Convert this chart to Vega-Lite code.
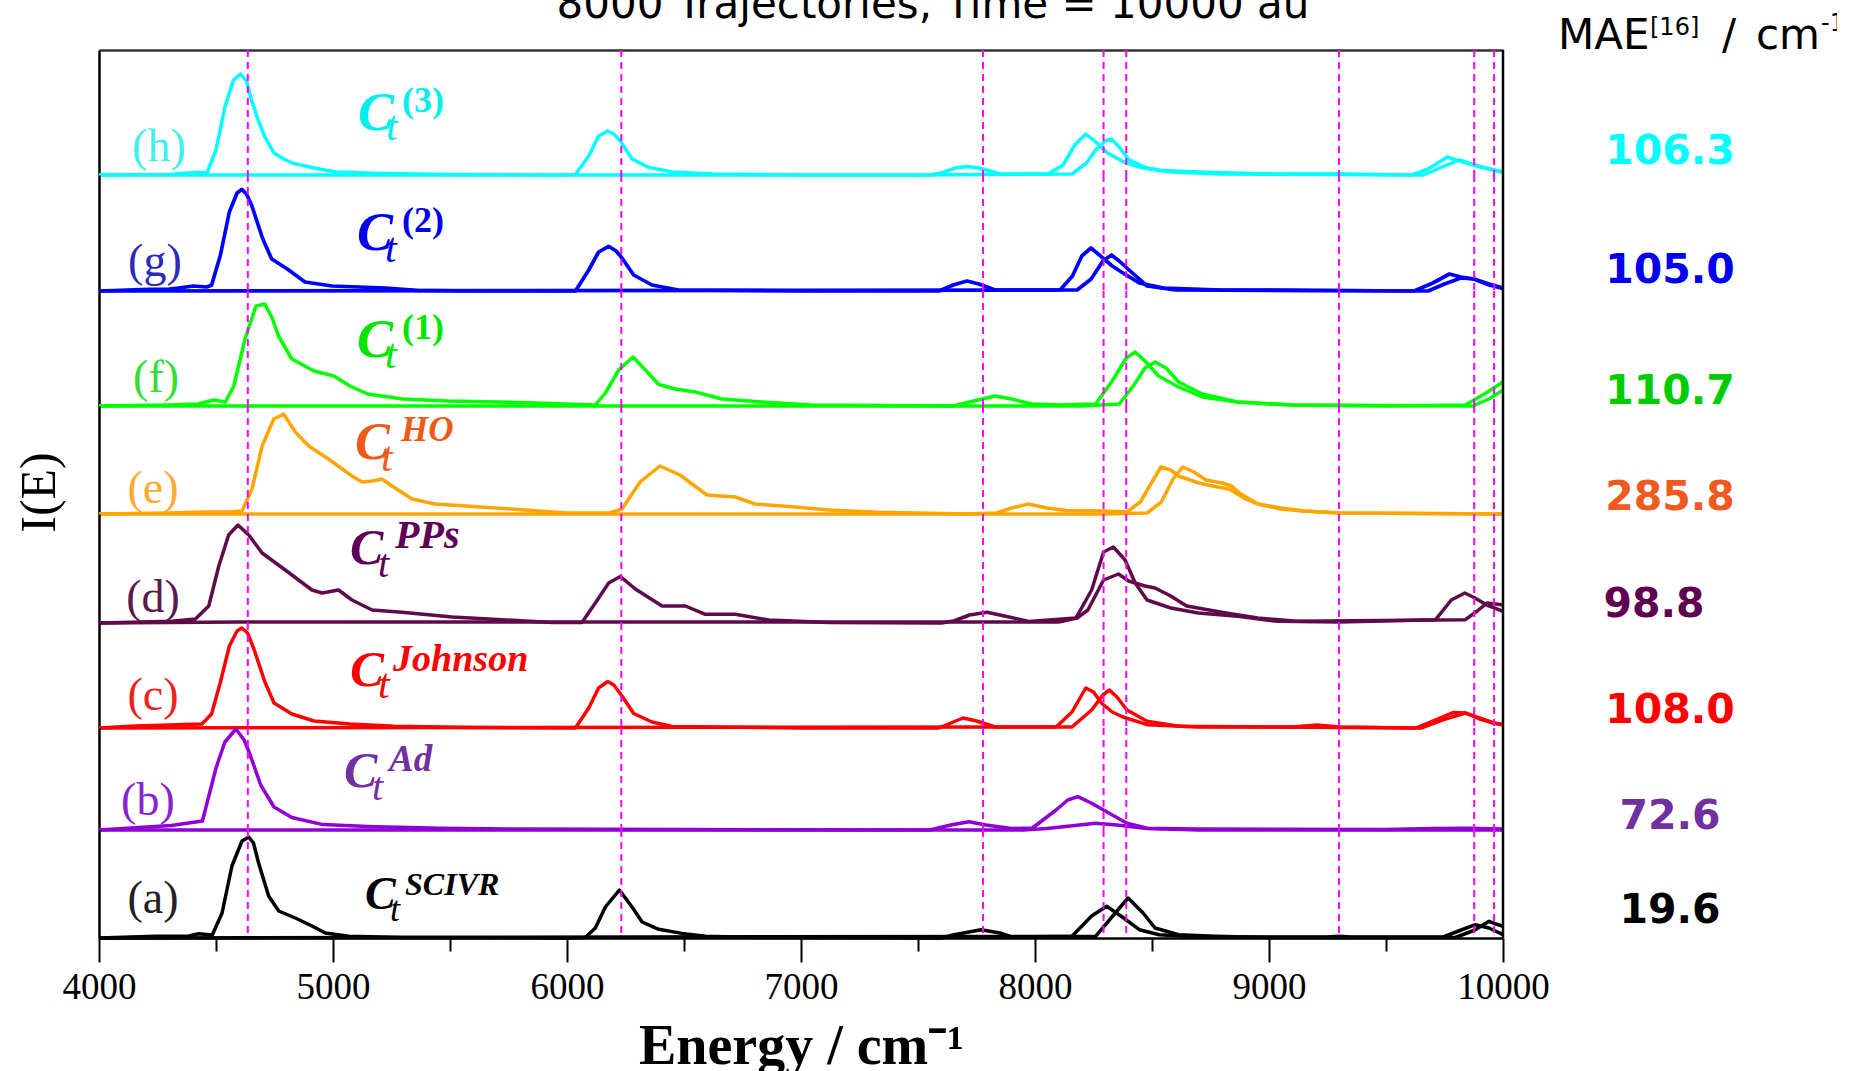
{
  "$schema": "https://vega.github.io/schema/vega-lite/v6.json",
  "padding": {"left": 14, "top": -16, "right": -8, "bottom": -3},
  "config": {"view": {"stroke": null}, "axis": {"grid": false}},
  "spacing": 0,
  "bounds": "flush",
  "resolve": {"scale": {"x": "independent", "y": "independent"}, "axis": {"x": "independent", "y": "independent"}},
  "datasets": {
    "lines": [{"E": 4636}, {"E": 6232}, {"E": 7778}, {"E": 8293}, {"E": 8390}, {"E": 9299}, {"E": 9877}, {"E": 9962}],
    "mae": [{"panel": "h", "MAE": 106.3}, {"panel": "g", "MAE": 105.0}, {"panel": "f", "MAE": 110.7}, {"panel": "e", "MAE": 285.8}, {"panel": "d", "MAE": 98.8}, {"panel": "c", "MAE": 108.0}, {"panel": "b", "MAE": 72.6}, {"panel": "a", "MAE": 19.6}],
    "spectra": [
      {"panel":"h","comp":"A","E":4000,"I":0},{"panel":"h","comp":"A","E":4300,"I":0.5},{"panel":"h","comp":"A","E":4380,"I":2},{"panel":"h","comp":"A","E":4430,"I":2.5},{"panel":"h","comp":"A","E":4461,"I":2},{"panel":"h","comp":"A","E":4500,"I":25},{"panel":"h","comp":"A","E":4538,"I":68},{"panel":"h","comp":"A","E":4575,"I":95},{"panel":"h","comp":"A","E":4605,"I":101},{"panel":"h","comp":"A","E":4630,"I":94},{"panel":"h","comp":"A","E":4652,"I":75},{"panel":"h","comp":"A","E":4680,"I":55},{"panel":"h","comp":"A","E":4709,"I":38},{"panel":"h","comp":"A","E":4748,"I":22},{"panel":"h","comp":"A","E":4790,"I":16},{"panel":"h","comp":"A","E":4825,"I":12},{"panel":"h","comp":"A","E":4919,"I":7},{"panel":"h","comp":"A","E":5013,"I":3},{"panel":"h","comp":"A","E":5200,"I":1.5},{"panel":"h","comp":"A","E":5500,"I":0.5},{"panel":"h","comp":"A","E":6000,"I":0},{"panel":"h","comp":"A","E":6036,"I":0.5},{"panel":"h","comp":"A","E":6093,"I":19},{"panel":"h","comp":"A","E":6135,"I":39},{"panel":"h","comp":"A","E":6174,"I":44},{"panel":"h","comp":"A","E":6200,"I":41},{"panel":"h","comp":"A","E":6228,"I":34},{"panel":"h","comp":"A","E":6278,"I":16},{"panel":"h","comp":"A","E":6349,"I":7.6},{"panel":"h","comp":"A","E":6449,"I":3},{"panel":"h","comp":"A","E":6620,"I":1},{"panel":"h","comp":"A","E":7000,"I":0},{"panel":"h","comp":"A","E":7550,"I":0},{"panel":"h","comp":"A","E":7600,"I":2},{"panel":"h","comp":"A","E":7660,"I":7},{"panel":"h","comp":"A","E":7709,"I":8.5},{"panel":"h","comp":"A","E":7760,"I":7},{"panel":"h","comp":"A","E":7853,"I":1},{"panel":"h","comp":"A","E":8055,"I":1},{"panel":"h","comp":"A","E":8120,"I":10},{"panel":"h","comp":"A","E":8170,"I":30},{"panel":"h","comp":"A","E":8217,"I":41},{"panel":"h","comp":"A","E":8260,"I":33},{"panel":"h","comp":"A","E":8310,"I":22},{"panel":"h","comp":"A","E":8380,"I":13},{"panel":"h","comp":"A","E":8446,"I":8},{"panel":"h","comp":"A","E":8530,"I":4.5},{"panel":"h","comp":"A","E":8700,"I":3},{"panel":"h","comp":"A","E":9000,"I":1},{"panel":"h","comp":"A","E":9300,"I":1},{"panel":"h","comp":"A","E":9611,"I":0},{"panel":"h","comp":"A","E":9680,"I":6},{"panel":"h","comp":"A","E":9763,"I":18},{"panel":"h","comp":"A","E":9800,"I":15},{"panel":"h","comp":"A","E":9876,"I":10},{"panel":"h","comp":"A","E":9940,"I":6},{"panel":"h","comp":"A","E":10000,"I":3},
      {"panel":"h","comp":"B","E":4000,"I":0},{"panel":"h","comp":"B","E":7500,"I":0},{"panel":"h","comp":"B","E":8158,"I":1},{"panel":"h","comp":"B","E":8220,"I":12},{"panel":"h","comp":"B","E":8259,"I":25},{"panel":"h","comp":"B","E":8300,"I":34},{"panel":"h","comp":"B","E":8327,"I":36},{"panel":"h","comp":"B","E":8360,"I":28},{"panel":"h","comp":"B","E":8402,"I":15},{"panel":"h","comp":"B","E":8479,"I":7},{"panel":"h","comp":"B","E":8582,"I":3},{"panel":"h","comp":"B","E":8800,"I":1},{"panel":"h","comp":"B","E":9300,"I":0.5},{"panel":"h","comp":"B","E":9660,"I":0},{"panel":"h","comp":"B","E":9740,"I":8},{"panel":"h","comp":"B","E":9813,"I":15},{"panel":"h","comp":"B","E":9876,"I":10},{"panel":"h","comp":"B","E":9940,"I":6},{"panel":"h","comp":"B","E":10000,"I":3},
      {"panel":"g","comp":"A","E":4000,"I":0},{"panel":"g","comp":"A","E":4213,"I":1.7},{"panel":"g","comp":"A","E":4300,"I":2},{"panel":"g","comp":"A","E":4340,"I":3},{"panel":"g","comp":"A","E":4404,"I":5},{"panel":"g","comp":"A","E":4460,"I":4},{"panel":"g","comp":"A","E":4481,"I":5.7},{"panel":"g","comp":"A","E":4519,"I":36},{"panel":"g","comp":"A","E":4557,"I":79},{"panel":"g","comp":"A","E":4590,"I":98},{"panel":"g","comp":"A","E":4610,"I":101.6},{"panel":"g","comp":"A","E":4630,"I":97},{"panel":"g","comp":"A","E":4652,"I":86},{"panel":"g","comp":"A","E":4700,"I":52},{"panel":"g","comp":"A","E":4738,"I":32},{"panel":"g","comp":"A","E":4805,"I":22},{"panel":"g","comp":"A","E":4880,"I":9},{"panel":"g","comp":"A","E":4996,"I":5},{"panel":"g","comp":"A","E":5225,"I":3},{"panel":"g","comp":"A","E":5358,"I":0.7},{"panel":"g","comp":"A","E":5600,"I":0},{"panel":"g","comp":"A","E":6036,"I":0},{"panel":"g","comp":"A","E":6093,"I":21},{"panel":"g","comp":"A","E":6135,"I":39},{"panel":"g","comp":"A","E":6178,"I":44.6},{"panel":"g","comp":"A","E":6210,"I":40},{"panel":"g","comp":"A","E":6235,"I":33},{"panel":"g","comp":"A","E":6285,"I":16},{"panel":"g","comp":"A","E":6363,"I":6},{"panel":"g","comp":"A","E":6477,"I":1},{"panel":"g","comp":"A","E":7000,"I":0},{"panel":"g","comp":"A","E":7590,"I":0},{"panel":"g","comp":"A","E":7650,"I":6},{"panel":"g","comp":"A","E":7709,"I":10},{"panel":"g","comp":"A","E":7760,"I":7},{"panel":"g","comp":"A","E":7830,"I":1},{"panel":"g","comp":"A","E":8107,"I":1},{"panel":"g","comp":"A","E":8160,"I":15},{"panel":"g","comp":"A","E":8200,"I":35},{"panel":"g","comp":"A","E":8239,"I":43},{"panel":"g","comp":"A","E":8280,"I":35},{"panel":"g","comp":"A","E":8330,"I":25},{"panel":"g","comp":"A","E":8376,"I":18},{"panel":"g","comp":"A","E":8446,"I":8},{"panel":"g","comp":"A","E":8550,"I":3},{"panel":"g","comp":"A","E":8800,"I":1},{"panel":"g","comp":"A","E":9300,"I":0.5},{"panel":"g","comp":"A","E":9620,"I":0},{"panel":"g","comp":"A","E":9700,"I":8},{"panel":"g","comp":"A","E":9771,"I":17},{"panel":"g","comp":"A","E":9820,"I":14},{"panel":"g","comp":"A","E":9876,"I":12},{"panel":"g","comp":"A","E":9940,"I":6},{"panel":"g","comp":"A","E":10000,"I":2.5},
      {"panel":"g","comp":"B","E":4000,"I":0},{"panel":"g","comp":"B","E":8180,"I":1},{"panel":"g","comp":"B","E":8240,"I":12},{"panel":"g","comp":"B","E":8290,"I":30},{"panel":"g","comp":"B","E":8327,"I":36},{"panel":"g","comp":"B","E":8360,"I":30},{"panel":"g","comp":"B","E":8402,"I":21},{"panel":"g","comp":"B","E":8479,"I":5},{"panel":"g","comp":"B","E":8600,"I":1},{"panel":"g","comp":"B","E":9680,"I":0},{"panel":"g","comp":"B","E":9750,"I":7},{"panel":"g","comp":"B","E":9820,"I":13},{"panel":"g","comp":"B","E":9876,"I":12},{"panel":"g","comp":"B","E":9940,"I":7},{"panel":"g","comp":"B","E":10000,"I":3},
      {"panel":"f","comp":"A","E":4000,"I":0},{"panel":"f","comp":"A","E":4300,"I":1},{"panel":"f","comp":"A","E":4423,"I":2},{"panel":"f","comp":"A","E":4490,"I":6},{"panel":"f","comp":"A","E":4540,"I":4},{"panel":"f","comp":"A","E":4576,"I":20},{"panel":"f","comp":"A","E":4624,"I":67},{"panel":"f","comp":"A","E":4671,"I":100},{"panel":"f","comp":"A","E":4709,"I":102},{"panel":"f","comp":"A","E":4740,"I":88},{"panel":"f","comp":"A","E":4767,"I":70},{"panel":"f","comp":"A","E":4824,"I":47},{"panel":"f","comp":"A","E":4919,"I":35},{"panel":"f","comp":"A","E":5004,"I":30},{"panel":"f","comp":"A","E":5072,"I":20},{"panel":"f","comp":"A","E":5148,"I":12},{"panel":"f","comp":"A","E":5299,"I":7},{"panel":"f","comp":"A","E":5491,"I":5},{"panel":"f","comp":"A","E":5833,"I":3.3},{"panel":"f","comp":"A","E":6050,"I":1.5},{"panel":"f","comp":"A","E":6121,"I":1},{"panel":"f","comp":"A","E":6164,"I":13},{"panel":"f","comp":"A","E":6221,"I":36},{"panel":"f","comp":"A","E":6282,"I":49},{"panel":"f","comp":"A","E":6335,"I":36},{"panel":"f","comp":"A","E":6392,"I":21.5},{"panel":"f","comp":"A","E":6463,"I":17},{"panel":"f","comp":"A","E":6548,"I":14},{"panel":"f","comp":"A","E":6662,"I":7},{"panel":"f","comp":"A","E":6833,"I":4},{"panel":"f","comp":"A","E":7046,"I":1},{"panel":"f","comp":"A","E":7650,"I":0},{"panel":"f","comp":"A","E":7720,"I":4},{"panel":"f","comp":"A","E":7829,"I":10},{"panel":"f","comp":"A","E":7900,"I":7},{"panel":"f","comp":"A","E":7985,"I":2},{"panel":"f","comp":"A","E":8100,"I":1},{"panel":"f","comp":"A","E":8259,"I":2},{"panel":"f","comp":"A","E":8330,"I":25},{"panel":"f","comp":"A","E":8390,"I":48},{"panel":"f","comp":"A","E":8428,"I":54},{"panel":"f","comp":"A","E":8470,"I":45},{"panel":"f","comp":"A","E":8528,"I":30},{"panel":"f","comp":"A","E":8614,"I":19},{"panel":"f","comp":"A","E":8715,"I":9},{"panel":"f","comp":"A","E":8866,"I":4},{"panel":"f","comp":"A","E":9100,"I":1},{"panel":"f","comp":"A","E":9500,"I":0},{"panel":"f","comp":"A","E":9839,"I":1},{"panel":"f","comp":"A","E":9920,"I":12},{"panel":"f","comp":"A","E":10000,"I":24},
      {"panel":"f","comp":"B","E":4000,"I":0},{"panel":"f","comp":"B","E":8200,"I":0},{"panel":"f","comp":"B","E":8360,"I":2},{"panel":"f","comp":"B","E":8420,"I":20},{"panel":"f","comp":"B","E":8470,"I":38},{"panel":"f","comp":"B","E":8513,"I":44},{"panel":"f","comp":"B","E":8560,"I":38},{"panel":"f","comp":"B","E":8614,"I":24},{"panel":"f","comp":"B","E":8715,"I":12},{"panel":"f","comp":"B","E":8866,"I":4},{"panel":"f","comp":"B","E":9100,"I":1},{"panel":"f","comp":"B","E":9870,"I":0},{"panel":"f","comp":"B","E":9940,"I":7},{"panel":"f","comp":"B","E":10000,"I":16},
      {"panel":"e","comp":"A","E":4000,"I":0},{"panel":"e","comp":"A","E":4300,"I":1},{"panel":"e","comp":"A","E":4450,"I":2},{"panel":"e","comp":"A","E":4550,"I":2},{"panel":"e","comp":"A","E":4611,"I":3},{"panel":"e","comp":"A","E":4654,"I":25},{"panel":"e","comp":"A","E":4697,"I":68},{"panel":"e","comp":"A","E":4747,"I":95},{"panel":"e","comp":"A","E":4789,"I":100},{"panel":"e","comp":"A","E":4839,"I":82},{"panel":"e","comp":"A","E":4896,"I":68},{"panel":"e","comp":"A","E":4981,"I":55},{"panel":"e","comp":"A","E":5081,"I":38},{"panel":"e","comp":"A","E":5124,"I":32},{"panel":"e","comp":"A","E":5170,"I":33},{"panel":"e","comp":"A","E":5209,"I":35},{"panel":"e","comp":"A","E":5252,"I":28},{"panel":"e","comp":"A","E":5338,"I":15},{"panel":"e","comp":"A","E":5436,"I":10},{"panel":"e","comp":"A","E":5650,"I":6.7},{"panel":"e","comp":"A","E":5863,"I":3.3},{"panel":"e","comp":"A","E":6000,"I":1},{"panel":"e","comp":"A","E":6180,"I":1},{"panel":"e","comp":"A","E":6235,"I":5},{"panel":"e","comp":"A","E":6312,"I":32},{"panel":"e","comp":"A","E":6397,"I":48},{"panel":"e","comp":"A","E":6483,"I":39},{"panel":"e","comp":"A","E":6598,"I":19},{"panel":"e","comp":"A","E":6719,"I":17},{"panel":"e","comp":"A","E":6804,"I":10},{"panel":"e","comp":"A","E":6975,"I":7},{"panel":"e","comp":"A","E":7120,"I":4},{"panel":"e","comp":"A","E":7332,"I":1.7},{"panel":"e","comp":"A","E":7700,"I":0},{"panel":"e","comp":"A","E":7835,"I":1},{"panel":"e","comp":"A","E":7900,"I":6},{"panel":"e","comp":"A","E":7972,"I":10},{"panel":"e","comp":"A","E":8050,"I":6},{"panel":"e","comp":"A","E":8135,"I":3.5},{"panel":"e","comp":"A","E":8300,"I":3},{"panel":"e","comp":"A","E":8393,"I":2},{"panel":"e","comp":"A","E":8450,"I":12},{"panel":"e","comp":"A","E":8500,"I":32},{"panel":"e","comp":"A","E":8538,"I":47},{"panel":"e","comp":"A","E":8580,"I":44},{"panel":"e","comp":"A","E":8614,"I":38},{"panel":"e","comp":"A","E":8700,"I":31},{"panel":"e","comp":"A","E":8780,"I":27},{"panel":"e","comp":"A","E":8830,"I":25},{"panel":"e","comp":"A","E":8900,"I":15},{"panel":"e","comp":"A","E":8952,"I":10},{"panel":"e","comp":"A","E":9050,"I":6},{"panel":"e","comp":"A","E":9150,"I":3},{"panel":"e","comp":"A","E":9300,"I":1},{"panel":"e","comp":"A","E":10000,"I":0},
      {"panel":"e","comp":"B","E":4000,"I":0},{"panel":"e","comp":"B","E":8300,"I":0},{"panel":"e","comp":"B","E":8479,"I":1},{"panel":"e","comp":"B","E":8540,"I":12},{"panel":"e","comp":"B","E":8590,"I":35},{"panel":"e","comp":"B","E":8631,"I":47},{"panel":"e","comp":"B","E":8680,"I":42},{"panel":"e","comp":"B","E":8730,"I":34},{"panel":"e","comp":"B","E":8800,"I":31},{"panel":"e","comp":"B","E":8840,"I":28},{"panel":"e","comp":"B","E":8880,"I":20},{"panel":"e","comp":"B","E":8952,"I":10},{"panel":"e","comp":"B","E":9050,"I":5},{"panel":"e","comp":"B","E":9150,"I":3},{"panel":"e","comp":"B","E":9300,"I":1},{"panel":"e","comp":"B","E":10000,"I":0},
      {"panel":"d","comp":"A","E":4000,"I":0},{"panel":"d","comp":"A","E":4312,"I":1.7},{"panel":"d","comp":"A","E":4412,"I":4},{"panel":"d","comp":"A","E":4469,"I":17},{"panel":"d","comp":"A","E":4512,"I":57},{"panel":"d","comp":"A","E":4554,"I":88},{"panel":"d","comp":"A","E":4594,"I":98},{"panel":"d","comp":"A","E":4640,"I":88},{"panel":"d","comp":"A","E":4697,"I":70},{"panel":"d","comp":"A","E":4796,"I":53},{"panel":"d","comp":"A","E":4910,"I":33},{"panel":"d","comp":"A","E":4953,"I":30},{"panel":"d","comp":"A","E":5024,"I":33},{"panel":"d","comp":"A","E":5081,"I":23},{"panel":"d","comp":"A","E":5167,"I":13},{"panel":"d","comp":"A","E":5295,"I":10.7},{"panel":"d","comp":"A","E":5509,"I":6},{"panel":"d","comp":"A","E":5722,"I":3.3},{"panel":"d","comp":"A","E":5936,"I":0.5},{"panel":"d","comp":"A","E":6064,"I":0.5},{"panel":"d","comp":"A","E":6121,"I":20},{"panel":"d","comp":"A","E":6178,"I":40},{"panel":"d","comp":"A","E":6228,"I":46.5},{"panel":"d","comp":"A","E":6292,"I":34},{"panel":"d","comp":"A","E":6406,"I":17},{"panel":"d","comp":"A","E":6506,"I":17},{"panel":"d","comp":"A","E":6591,"I":8.7},{"panel":"d","comp":"A","E":6719,"I":8.7},{"panel":"d","comp":"A","E":6862,"I":3},{"panel":"d","comp":"A","E":7118,"I":0.5},{"panel":"d","comp":"A","E":7600,"I":0},{"panel":"d","comp":"A","E":7653,"I":2},{"panel":"d","comp":"A","E":7720,"I":8},{"panel":"d","comp":"A","E":7795,"I":10.7},{"panel":"d","comp":"A","E":7870,"I":7},{"panel":"d","comp":"A","E":7973,"I":1.5},{"panel":"d","comp":"A","E":8175,"I":5},{"panel":"d","comp":"A","E":8242,"I":33},{"panel":"d","comp":"A","E":8293,"I":71},{"panel":"d","comp":"A","E":8335,"I":76},{"panel":"d","comp":"A","E":8385,"I":63},{"panel":"d","comp":"A","E":8428,"I":40},{"panel":"d","comp":"A","E":8479,"I":23},{"panel":"d","comp":"A","E":8580,"I":15},{"panel":"d","comp":"A","E":8698,"I":10},{"panel":"d","comp":"A","E":8867,"I":6.7},{"panel":"d","comp":"A","E":9036,"I":1.7},{"panel":"d","comp":"A","E":9300,"I":1},{"panel":"d","comp":"A","E":9712,"I":3.3},{"panel":"d","comp":"A","E":9779,"I":23},{"panel":"d","comp":"A","E":9837,"I":30},{"panel":"d","comp":"A","E":9880,"I":25},{"panel":"d","comp":"A","E":9931,"I":18},{"panel":"d","comp":"A","E":10000,"I":11.7},
      {"panel":"d","comp":"B","E":4000,"I":0},{"panel":"d","comp":"B","E":4600,"I":1},{"panel":"d","comp":"B","E":6200,"I":1},{"panel":"d","comp":"B","E":7500,"I":1},{"panel":"d","comp":"B","E":8100,"I":1},{"panel":"d","comp":"B","E":8180,"I":5},{"panel":"d","comp":"B","E":8226,"I":13},{"panel":"d","comp":"B","E":8293,"I":43},{"panel":"d","comp":"B","E":8357,"I":49},{"panel":"d","comp":"B","E":8400,"I":42},{"panel":"d","comp":"B","E":8428,"I":40},{"panel":"d","comp":"B","E":8470,"I":37},{"panel":"d","comp":"B","E":8513,"I":35},{"panel":"d","comp":"B","E":8580,"I":27},{"panel":"d","comp":"B","E":8648,"I":17},{"panel":"d","comp":"B","E":8816,"I":10},{"panel":"d","comp":"B","E":8952,"I":5},{"panel":"d","comp":"B","E":9120,"I":1.7},{"panel":"d","comp":"B","E":9839,"I":3.3},{"panel":"d","comp":"B","E":9890,"I":12},{"panel":"d","comp":"B","E":9931,"I":20},{"panel":"d","comp":"B","E":9970,"I":19},{"panel":"d","comp":"B","E":10000,"I":18},
      {"panel":"c","comp":"A","E":4000,"I":0},{"panel":"c","comp":"A","E":4156,"I":2},{"panel":"c","comp":"A","E":4366,"I":3.6},{"panel":"c","comp":"A","E":4440,"I":4},{"panel":"c","comp":"A","E":4481,"I":14},{"panel":"c","comp":"A","E":4519,"I":46},{"panel":"c","comp":"A","E":4557,"I":82},{"panel":"c","comp":"A","E":4590,"I":97},{"panel":"c","comp":"A","E":4610,"I":100},{"panel":"c","comp":"A","E":4635,"I":95},{"panel":"c","comp":"A","E":4662,"I":79},{"panel":"c","comp":"A","E":4709,"I":46},{"panel":"c","comp":"A","E":4748,"I":25},{"panel":"c","comp":"A","E":4824,"I":14},{"panel":"c","comp":"A","E":4919,"I":7},{"panel":"c","comp":"A","E":5072,"I":4},{"panel":"c","comp":"A","E":5263,"I":1.8},{"panel":"c","comp":"A","E":5600,"I":0.5},{"panel":"c","comp":"A","E":6036,"I":0},{"panel":"c","comp":"A","E":6093,"I":20},{"panel":"c","comp":"A","E":6135,"I":40},{"panel":"c","comp":"A","E":6174,"I":46.5},{"panel":"c","comp":"A","E":6200,"I":43},{"panel":"c","comp":"A","E":6235,"I":32},{"panel":"c","comp":"A","E":6285,"I":14.5},{"panel":"c","comp":"A","E":6363,"I":6},{"panel":"c","comp":"A","E":6450,"I":1.5},{"panel":"c","comp":"A","E":7000,"I":0},{"panel":"c","comp":"A","E":7590,"I":0},{"panel":"c","comp":"A","E":7640,"I":5},{"panel":"c","comp":"A","E":7693,"I":10},{"panel":"c","comp":"A","E":7750,"I":7},{"panel":"c","comp":"A","E":7830,"I":1},{"panel":"c","comp":"A","E":8090,"I":1},{"panel":"c","comp":"A","E":8158,"I":16},{"panel":"c","comp":"A","E":8217,"I":40},{"panel":"c","comp":"A","E":8250,"I":36},{"panel":"c","comp":"A","E":8284,"I":25},{"panel":"c","comp":"A","E":8330,"I":16},{"panel":"c","comp":"A","E":8376,"I":11},{"panel":"c","comp":"A","E":8479,"I":3.3},{"panel":"c","comp":"A","E":8700,"I":1},{"panel":"c","comp":"A","E":9100,"I":1},{"panel":"c","comp":"A","E":9205,"I":3},{"panel":"c","comp":"A","E":9300,"I":1},{"panel":"c","comp":"A","E":9627,"I":0},{"panel":"c","comp":"A","E":9700,"I":7},{"panel":"c","comp":"A","E":9789,"I":15.6},{"panel":"c","comp":"A","E":9839,"I":15},{"panel":"c","comp":"A","E":9900,"I":9},{"panel":"c","comp":"A","E":9960,"I":5},{"panel":"c","comp":"A","E":10000,"I":3.3},
      {"panel":"c","comp":"B","E":4000,"I":0},{"panel":"c","comp":"B","E":8158,"I":1},{"panel":"c","comp":"B","E":8242,"I":18},{"panel":"c","comp":"B","E":8290,"I":33},{"panel":"c","comp":"B","E":8318,"I":38},{"panel":"c","comp":"B","E":8350,"I":31},{"panel":"c","comp":"B","E":8393,"I":18},{"panel":"c","comp":"B","E":8479,"I":6.7},{"panel":"c","comp":"B","E":8614,"I":1.7},{"panel":"c","comp":"B","E":9650,"I":0},{"panel":"c","comp":"B","E":9740,"I":8},{"panel":"c","comp":"B","E":9839,"I":15},{"panel":"c","comp":"B","E":9900,"I":10},{"panel":"c","comp":"B","E":9960,"I":5},{"panel":"c","comp":"B","E":10000,"I":3.3},
      {"panel":"b","comp":"A","E":4000,"I":0},{"panel":"b","comp":"A","E":4118,"I":1.8},{"panel":"b","comp":"A","E":4309,"I":4.6},{"panel":"b","comp":"A","E":4442,"I":9},{"panel":"b","comp":"A","E":4500,"I":62},{"panel":"b","comp":"A","E":4538,"I":88},{"panel":"b","comp":"A","E":4585,"I":101},{"panel":"b","comp":"A","E":4620,"I":90},{"panel":"b","comp":"A","E":4643,"I":77},{"panel":"b","comp":"A","E":4691,"I":45},{"panel":"b","comp":"A","E":4748,"I":23},{"panel":"b","comp":"A","E":4824,"I":12.5},{"panel":"b","comp":"A","E":4957,"I":5.4},{"panel":"b","comp":"A","E":5148,"I":3.6},{"panel":"b","comp":"A","E":5453,"I":1.8},{"panel":"b","comp":"A","E":5800,"I":1},{"panel":"b","comp":"A","E":6500,"I":0.5},{"panel":"b","comp":"A","E":7550,"I":0},{"panel":"b","comp":"A","E":7640,"I":5},{"panel":"b","comp":"A","E":7718,"I":8.3},{"panel":"b","comp":"A","E":7790,"I":5},{"panel":"b","comp":"A","E":7900,"I":1.5},{"panel":"b","comp":"A","E":7989,"I":2},{"panel":"b","comp":"A","E":8090,"I":20},{"panel":"b","comp":"A","E":8140,"I":30},{"panel":"b","comp":"A","E":8183,"I":33.3},{"panel":"b","comp":"A","E":8240,"I":27},{"panel":"b","comp":"A","E":8293,"I":20},{"panel":"b","comp":"A","E":8393,"I":6.7},{"panel":"b","comp":"A","E":8479,"I":1.7},{"panel":"b","comp":"A","E":8700,"I":1},{"panel":"b","comp":"A","E":9500,"I":0.5},{"panel":"b","comp":"A","E":9700,"I":1.5},{"panel":"b","comp":"A","E":9850,"I":1.7},{"panel":"b","comp":"A","E":10000,"I":1},
      {"panel":"b","comp":"B","E":4000,"I":0},{"panel":"b","comp":"B","E":7950,"I":0},{"panel":"b","comp":"B","E":8050,"I":1.5},{"panel":"b","comp":"B","E":8150,"I":4},{"panel":"b","comp":"B","E":8259,"I":6.7},{"panel":"b","comp":"B","E":8350,"I":5},{"panel":"b","comp":"B","E":8479,"I":1.5},{"panel":"b","comp":"B","E":8700,"I":0},{"panel":"b","comp":"B","E":10000,"I":0},
      {"panel":"a","comp":"A","E":4000,"I":0},{"panel":"a","comp":"A","E":4239,"I":1.7},{"panel":"a","comp":"A","E":4384,"I":2},{"panel":"a","comp":"A","E":4426,"I":4.3},{"panel":"a","comp":"A","E":4484,"I":3},{"panel":"a","comp":"A","E":4526,"I":25},{"panel":"a","comp":"A","E":4568,"I":72},{"panel":"a","comp":"A","E":4611,"I":97},{"panel":"a","comp":"A","E":4640,"I":101},{"panel":"a","comp":"A","E":4660,"I":95},{"panel":"a","comp":"A","E":4682,"I":75},{"panel":"a","comp":"A","E":4725,"I":42},{"panel":"a","comp":"A","E":4768,"I":27},{"panel":"a","comp":"A","E":4839,"I":20},{"panel":"a","comp":"A","E":4910,"I":12},{"panel":"a","comp":"A","E":4967,"I":5},{"panel":"a","comp":"A","E":5067,"I":1.7},{"panel":"a","comp":"A","E":5300,"I":0.5},{"panel":"a","comp":"A","E":6000,"I":0},{"panel":"a","comp":"A","E":6078,"I":0.5},{"panel":"a","comp":"A","E":6121,"I":10},{"panel":"a","comp":"A","E":6164,"I":31},{"panel":"a","comp":"A","E":6224,"I":48},{"panel":"a","comp":"A","E":6278,"I":31},{"panel":"a","comp":"A","E":6321,"I":16},{"panel":"a","comp":"A","E":6392,"I":8.7},{"panel":"a","comp":"A","E":6491,"I":4.6},{"panel":"a","comp":"A","E":6591,"I":1.7},{"panel":"a","comp":"A","E":6800,"I":0.5},{"panel":"a","comp":"A","E":7600,"I":0},{"panel":"a","comp":"A","E":7650,"I":3},{"panel":"a","comp":"A","E":7769,"I":8.3},{"panel":"a","comp":"A","E":7850,"I":5},{"panel":"a","comp":"A","E":7900,"I":1},{"panel":"a","comp":"A","E":8158,"I":1.7},{"panel":"a","comp":"A","E":8242,"I":22},{"panel":"a","comp":"A","E":8306,"I":31.7},{"panel":"a","comp":"A","E":8367,"I":22},{"panel":"a","comp":"A","E":8446,"I":8.3},{"panel":"a","comp":"A","E":8531,"I":3.3},{"panel":"a","comp":"A","E":8700,"I":1},{"panel":"a","comp":"A","E":9250,"I":1},{"panel":"a","comp":"A","E":9300,"I":1.7},{"panel":"a","comp":"A","E":9350,"I":1},{"panel":"a","comp":"A","E":9745,"I":1},{"panel":"a","comp":"A","E":9810,"I":7},{"panel":"a","comp":"A","E":9882,"I":13.3},{"panel":"a","comp":"A","E":9940,"I":10},{"panel":"a","comp":"A","E":10000,"I":3.3},
      {"panel":"a","comp":"B","E":4000,"I":0},{"panel":"a","comp":"B","E":8259,"I":1.7},{"panel":"a","comp":"B","E":8343,"I":25},{"panel":"a","comp":"B","E":8398,"I":40},{"panel":"a","comp":"B","E":8462,"I":25},{"panel":"a","comp":"B","E":8513,"I":10},{"panel":"a","comp":"B","E":8614,"I":3.3},{"panel":"a","comp":"B","E":8770,"I":1.7},{"panel":"a","comp":"B","E":9000,"I":0.5},{"panel":"a","comp":"B","E":9796,"I":0.5},{"panel":"a","comp":"B","E":9880,"I":8},{"panel":"a","comp":"B","E":9940,"I":16.7},{"panel":"a","comp":"B","E":9970,"I":14},{"panel":"a","comp":"B","E":10000,"I":11.7}
    ]
  },
  "vconcat": [
    {
      "width": 1404, "height": 125,
      "layer": [
        {"data": {"name": "spectra"}, "transform": [{"filter": {"field": "panel", "equal": "h"}}],
         "mark": {"type": "line", "color": "#00FFFF", "strokeWidth": 3.5, "strokeJoin": "round"},
         "encoding": {
           "x": {"field": "E", "type": "quantitative", "scale": {"domain": [4000, 10000], "nice": false, "zero": false}, "axis": {"orient": "top", "domain": true, "domainColor": "#333333", "domainWidth": 2.5, "ticks": false, "labels": false, "grid": false, "title": null}},
           "y": {"field": "I", "type": "quantitative", "scale": {"domain": [0, 125], "nice": false, "zero": true}, "axis": {"domain": true, "domainColor": "#000000", "domainWidth": 2.5, "ticks": false, "labels": false, "grid": false, "title": null}},
           "detail": {"field": "comp"}}},
        {"data": {"name": "lines"}, "mark": {"type": "rule", "color": "#FF00FF", "strokeWidth": 2, "strokeDash": [7, 5]}, "encoding": {"x": {"field": "E", "type": "quantitative"}}},
        {"data": {"values": [{}]}, "mark": {"type": "rule", "color": "#000000", "strokeWidth": 2.5}, "encoding": {"x": {"datum": 10000, "type": "quantitative"}}},
        {"data": {"values": [{}]}, "mark": {"type": "text", "text": "(h)", "font": "Liberation Serif", "fontSize": 46, "color": "#44EEEE", "align": "center", "baseline": "middle"}, "encoding": {"x": {"datum": 4256, "type": "quantitative"}, "y": {"datum": 28, "type": "quantitative"}}},
        {"data": {"values": [{}]}, "mark": {"type": "text", "text": "C", "font": "Liberation Serif", "fontSize": 54, "fontWeight": "bold", "fontStyle": "italic", "color": "#00EEEE", "align": "left", "baseline": "alphabetic"}, "encoding": {"x": {"datum": 5107, "type": "quantitative"}, "y": {"datum": 45, "type": "quantitative"}}},
        {"data": {"values": [{}]}, "mark": {"type": "text", "text": "t", "font": "Liberation Serif", "fontSize": 42, "fontStyle": "italic", "color": "#00EEEE", "align": "left", "baseline": "alphabetic", "dx": 28}, "encoding": {"x": {"datum": 5107, "type": "quantitative"}, "y": {"datum": 35, "type": "quantitative"}}},
        {"data": {"values": [{}]}, "mark": {"type": "text", "text": "(3)", "font": "Liberation Serif", "fontSize": 36, "fontWeight": "bold", "color": "#00EEEE", "align": "left", "baseline": "alphabetic", "dx": 44}, "encoding": {"x": {"datum": 5107, "type": "quantitative"}, "y": {"datum": 63, "type": "quantitative"}}},
        {"data": {"name": "mae"}, "transform": [{"filter": {"field": "panel", "equal": "h"}}], "mark": {"type": "text", "font": "DejaVu Sans", "fontWeight": "bold", "fontSize": 41, "color": "#00FFFF", "align": "center", "baseline": "middle", "dx": 167}, "encoding": {"x": {"datum": 10000, "type": "quantitative"}, "y": {"datum": 23, "type": "quantitative"}, "text": {"field": "MAE", "type": "quantitative", "format": ".1f"}}},
        {"data": {"values": [{}]}, "mark": {"type": "text", "text": "8000 Trajectories, Time = 10000 au", "font": "DejaVu Sans", "fontSize": 42, "color": "#000000", "align": "center", "baseline": "alphabetic", "dy": -32}, "encoding": {"x": {"datum": 7564, "type": "quantitative"}, "y": {"datum": 125, "type": "quantitative"}}},
        {"data": {"values": [{}]}, "mark": {"type": "text", "text": "MAE", "font": "DejaVu Sans", "fontSize": 42, "color": "#000000", "align": "left", "baseline": "alphabetic", "dx": 55, "dy": -1}, "encoding": {"x": {"datum": 10000, "type": "quantitative"}, "y": {"datum": 125, "type": "quantitative"}}},
        {"data": {"values": [{}]}, "mark": {"type": "text", "text": "[16]", "font": "DejaVu Sans", "fontSize": 24, "color": "#000000", "align": "left", "baseline": "alphabetic", "dx": 147, "dy": -15}, "encoding": {"x": {"datum": 10000, "type": "quantitative"}, "y": {"datum": 125, "type": "quantitative"}}},
        {"data": {"values": [{}]}, "mark": {"type": "text", "text": "/", "font": "DejaVu Sans", "fontSize": 42, "color": "#000000", "align": "left", "baseline": "alphabetic", "dx": 219, "dy": -1}, "encoding": {"x": {"datum": 10000, "type": "quantitative"}, "y": {"datum": 125, "type": "quantitative"}}},
        {"data": {"values": [{}]}, "mark": {"type": "text", "text": "cm", "font": "DejaVu Sans", "fontSize": 42, "color": "#000000", "align": "left", "baseline": "alphabetic", "dx": 253, "dy": -1}, "encoding": {"x": {"datum": 10000, "type": "quantitative"}, "y": {"datum": 125, "type": "quantitative"}}},
        {"data": {"values": [{}]}, "mark": {"type": "text", "text": "-1", "font": "DejaVu Sans", "fontSize": 24, "color": "#000000", "align": "left", "baseline": "alphabetic", "dx": 318, "dy": -19}, "encoding": {"x": {"datum": 10000, "type": "quantitative"}, "y": {"datum": 125, "type": "quantitative"}}}
      ]
    },
    {
      "width": 1404, "height": 116,
      "layer": [
        {"data": {"name": "spectra"}, "transform": [{"filter": {"field": "panel", "equal": "g"}}],
         "mark": {"type": "line", "color": "#0000FF", "strokeWidth": 3.7, "strokeJoin": "round"},
         "encoding": {
           "x": {"field": "E", "type": "quantitative", "scale": {"domain": [4000, 10000], "nice": false, "zero": false}, "axis": null},
           "y": {"field": "I", "type": "quantitative", "scale": {"domain": [0, 116], "nice": false, "zero": true}, "axis": {"domain": true, "domainColor": "#000000", "domainWidth": 2.5, "ticks": false, "labels": false, "grid": false, "title": null}},
           "detail": {"field": "comp"}}},
        {"data": {"name": "lines"}, "mark": {"type": "rule", "color": "#FF00FF", "strokeWidth": 2, "strokeDash": [7, 5]}, "encoding": {"x": {"field": "E", "type": "quantitative"}}},
        {"data": {"values": [{}]}, "mark": {"type": "rule", "color": "#000000", "strokeWidth": 2.5}, "encoding": {"x": {"datum": 10000, "type": "quantitative"}}},
        {"data": {"values": [{}]}, "mark": {"type": "text", "text": "(g)", "font": "Liberation Serif", "fontSize": 46, "color": "#2B2BB8", "align": "center", "baseline": "middle"}, "encoding": {"x": {"datum": 4239, "type": "quantitative"}, "y": {"datum": 29, "type": "quantitative"}}},
        {"data": {"values": [{}]}, "mark": {"type": "text", "text": "C", "font": "Liberation Serif", "fontSize": 54, "fontWeight": "bold", "fontStyle": "italic", "color": "#0000EE", "align": "left", "baseline": "alphabetic"}, "encoding": {"x": {"datum": 5103, "type": "quantitative"}, "y": {"datum": 41, "type": "quantitative"}}},
        {"data": {"values": [{}]}, "mark": {"type": "text", "text": "t", "font": "Liberation Serif", "fontSize": 42, "fontStyle": "italic", "color": "#0000EE", "align": "left", "baseline": "alphabetic", "dx": 28}, "encoding": {"x": {"datum": 5103, "type": "quantitative"}, "y": {"datum": 29, "type": "quantitative"}}},
        {"data": {"values": [{}]}, "mark": {"type": "text", "text": "(2)", "font": "Liberation Serif", "fontSize": 36, "fontWeight": "bold", "color": "#0000EE", "align": "left", "baseline": "alphabetic", "dx": 45}, "encoding": {"x": {"datum": 5103, "type": "quantitative"}, "y": {"datum": 59, "type": "quantitative"}}},
        {"data": {"name": "mae"}, "transform": [{"filter": {"field": "panel", "equal": "g"}}], "mark": {"type": "text", "font": "DejaVu Sans", "fontWeight": "bold", "fontSize": 41, "color": "#0000EE", "align": "center", "baseline": "middle", "dx": 167}, "encoding": {"x": {"datum": 10000, "type": "quantitative"}, "y": {"datum": 20, "type": "quantitative"}, "text": {"field": "MAE", "type": "quantitative", "format": ".1f"}}}
      ]
    },
    {
      "width": 1404, "height": 115,
      "layer": [
        {"data": {"name": "spectra"}, "transform": [{"filter": {"field": "panel", "equal": "f"}}],
         "mark": {"type": "line", "color": "#00FF00", "strokeWidth": 3.5, "strokeJoin": "round"},
         "encoding": {
           "x": {"field": "E", "type": "quantitative", "scale": {"domain": [4000, 10000], "nice": false, "zero": false}, "axis": null},
           "y": {"field": "I", "type": "quantitative", "scale": {"domain": [0, 115], "nice": false, "zero": true}, "axis": {"domain": true, "domainColor": "#000000", "domainWidth": 2.5, "ticks": false, "labels": false, "grid": false, "title": null}},
           "detail": {"field": "comp"}}},
        {"data": {"name": "lines"}, "mark": {"type": "rule", "color": "#FF00FF", "strokeWidth": 2, "strokeDash": [7, 5]}, "encoding": {"x": {"field": "E", "type": "quantitative"}}},
        {"data": {"values": [{}]}, "mark": {"type": "rule", "color": "#000000", "strokeWidth": 2.5}, "encoding": {"x": {"datum": 10000, "type": "quantitative"}}},
        {"data": {"values": [{}]}, "mark": {"type": "text", "text": "(f)", "font": "Liberation Serif", "fontSize": 46, "color": "#33DD33", "align": "center", "baseline": "middle"}, "encoding": {"x": {"datum": 4244, "type": "quantitative"}, "y": {"datum": 28, "type": "quantitative"}}},
        {"data": {"values": [{}]}, "mark": {"type": "text", "text": "C", "font": "Liberation Serif", "fontSize": 54, "fontWeight": "bold", "fontStyle": "italic", "color": "#00E600", "align": "left", "baseline": "alphabetic"}, "encoding": {"x": {"datum": 5103, "type": "quantitative"}, "y": {"datum": 49, "type": "quantitative"}}},
        {"data": {"values": [{}]}, "mark": {"type": "text", "text": "t", "font": "Liberation Serif", "fontSize": 42, "fontStyle": "italic", "color": "#00E600", "align": "left", "baseline": "alphabetic", "dx": 28}, "encoding": {"x": {"datum": 5103, "type": "quantitative"}, "y": {"datum": 38, "type": "quantitative"}}},
        {"data": {"values": [{}]}, "mark": {"type": "text", "text": "(1)", "font": "Liberation Serif", "fontSize": 36, "fontWeight": "bold", "color": "#00E600", "align": "left", "baseline": "alphabetic", "dx": 45}, "encoding": {"x": {"datum": 5103, "type": "quantitative"}, "y": {"datum": 67, "type": "quantitative"}}},
        {"data": {"name": "mae"}, "transform": [{"filter": {"field": "panel", "equal": "f"}}], "mark": {"type": "text", "font": "DejaVu Sans", "fontWeight": "bold", "fontSize": 41, "color": "#00CC00", "align": "center", "baseline": "middle", "dx": 167}, "encoding": {"x": {"datum": 10000, "type": "quantitative"}, "y": {"datum": 14, "type": "quantitative"}, "text": {"field": "MAE", "type": "quantitative", "format": ".1f"}}}
      ]
    },
    {
      "width": 1404, "height": 108,
      "layer": [
        {"data": {"name": "spectra"}, "transform": [{"filter": {"field": "panel", "equal": "e"}}],
         "mark": {"type": "line", "color": "#FFA500", "strokeWidth": 3.5, "strokeJoin": "round"},
         "encoding": {
           "x": {"field": "E", "type": "quantitative", "scale": {"domain": [4000, 10000], "nice": false, "zero": false}, "axis": null},
           "y": {"field": "I", "type": "quantitative", "scale": {"domain": [0, 108], "nice": false, "zero": true}, "axis": {"domain": true, "domainColor": "#000000", "domainWidth": 2.5, "ticks": false, "labels": false, "grid": false, "title": "I(E)", "titleFont": "Liberation Serif", "titleFontSize": 50, "titleFontWeight": "normal", "titleColor": "#000000", "titlePadding": 35, "titleY": 86}},
           "detail": {"field": "comp"}}},
        {"data": {"name": "lines"}, "mark": {"type": "rule", "color": "#FF00FF", "strokeWidth": 2, "strokeDash": [7, 5]}, "encoding": {"x": {"field": "E", "type": "quantitative"}}},
        {"data": {"values": [{}]}, "mark": {"type": "rule", "color": "#000000", "strokeWidth": 2.5}, "encoding": {"x": {"datum": 10000, "type": "quantitative"}}},
        {"data": {"values": [{}]}, "mark": {"type": "text", "text": "(e)", "font": "Liberation Serif", "fontSize": 46, "color": "#FFAA33", "align": "center", "baseline": "middle"}, "encoding": {"x": {"datum": 4231, "type": "quantitative"}, "y": {"datum": 25, "type": "quantitative"}}},
        {"data": {"values": [{}]}, "mark": {"type": "text", "text": "C", "font": "Liberation Serif", "fontSize": 52, "fontWeight": "bold", "fontStyle": "italic", "color": "#EE5A18", "align": "left", "baseline": "alphabetic"}, "encoding": {"x": {"datum": 5094, "type": "quantitative"}, "y": {"datum": 55, "type": "quantitative"}}},
        {"data": {"values": [{}]}, "mark": {"type": "text", "text": "t", "font": "Liberation Serif", "fontSize": 42, "fontStyle": "italic", "color": "#EE5A18", "align": "left", "baseline": "alphabetic", "dx": 26}, "encoding": {"x": {"datum": 5094, "type": "quantitative"}, "y": {"datum": 43, "type": "quantitative"}}},
        {"data": {"values": [{}]}, "mark": {"type": "text", "text": "HO", "font": "Liberation Serif", "fontSize": 35, "fontWeight": "bold", "fontStyle": "italic", "color": "#EE5A18", "align": "left", "baseline": "alphabetic", "dx": 46}, "encoding": {"x": {"datum": 5094, "type": "quantitative"}, "y": {"datum": 73, "type": "quantitative"}}},
        {"data": {"name": "mae"}, "transform": [{"filter": {"field": "panel", "equal": "e"}}], "mark": {"type": "text", "font": "DejaVu Sans", "fontWeight": "bold", "fontSize": 41, "color": "#F05A1E", "align": "center", "baseline": "middle", "dx": 167}, "encoding": {"x": {"datum": 10000, "type": "quantitative"}, "y": {"datum": 16, "type": "quantitative"}, "text": {"field": "MAE", "type": "quantitative", "format": ".1f"}}}
      ]
    },
    {
      "width": 1404, "height": 109,
      "layer": [
        {"data": {"name": "spectra"}, "transform": [{"filter": {"field": "panel", "equal": "d"}}],
         "mark": {"type": "line", "color": "#5F0A4A", "strokeWidth": 3.5, "strokeJoin": "round"},
         "encoding": {
           "x": {"field": "E", "type": "quantitative", "scale": {"domain": [4000, 10000], "nice": false, "zero": false}, "axis": null},
           "y": {"field": "I", "type": "quantitative", "scale": {"domain": [0, 109], "nice": false, "zero": true}, "axis": {"domain": true, "domainColor": "#000000", "domainWidth": 2.5, "ticks": false, "labels": false, "grid": false, "title": null}},
           "detail": {"field": "comp"}}},
        {"data": {"name": "lines"}, "mark": {"type": "rule", "color": "#FF00FF", "strokeWidth": 2, "strokeDash": [7, 5]}, "encoding": {"x": {"field": "E", "type": "quantitative"}}},
        {"data": {"values": [{}]}, "mark": {"type": "rule", "color": "#000000", "strokeWidth": 2.5}, "encoding": {"x": {"datum": 10000, "type": "quantitative"}}},
        {"data": {"values": [{}]}, "mark": {"type": "text", "text": "(d)", "font": "Liberation Serif", "fontSize": 46, "color": "#5A1A50", "align": "center", "baseline": "middle"}, "encoding": {"x": {"datum": 4231, "type": "quantitative"}, "y": {"datum": 25, "type": "quantitative"}}},
        {"data": {"values": [{}]}, "mark": {"type": "text", "text": "C", "font": "Liberation Serif", "fontSize": 50, "fontWeight": "bold", "fontStyle": "italic", "color": "#5E0057", "align": "left", "baseline": "alphabetic"}, "encoding": {"x": {"datum": 5073, "type": "quantitative"}, "y": {"datum": 59, "type": "quantitative"}}},
        {"data": {"values": [{}]}, "mark": {"type": "text", "text": "t", "font": "Liberation Serif", "fontSize": 40, "fontStyle": "italic", "color": "#5E0057", "align": "left", "baseline": "alphabetic", "dx": 28}, "encoding": {"x": {"datum": 5073, "type": "quantitative"}, "y": {"datum": 46, "type": "quantitative"}}},
        {"data": {"values": [{}]}, "mark": {"type": "text", "text": "PPs", "font": "Liberation Serif", "fontSize": 40, "fontWeight": "bold", "fontStyle": "italic", "color": "#5E0057", "align": "left", "baseline": "alphabetic", "dx": 45}, "encoding": {"x": {"datum": 5073, "type": "quantitative"}, "y": {"datum": 75, "type": "quantitative"}}},
        {"data": {"name": "mae"}, "transform": [{"filter": {"field": "panel", "equal": "d"}}], "mark": {"type": "text", "font": "DejaVu Sans", "fontWeight": "bold", "fontSize": 41, "color": "#600050", "align": "center", "baseline": "middle", "dx": 151}, "encoding": {"x": {"datum": 10000, "type": "quantitative"}, "y": {"datum": 18, "type": "quantitative"}, "text": {"field": "MAE", "type": "quantitative", "format": ".1f"}}}
      ]
    },
    {
      "width": 1404, "height": 105,
      "layer": [
        {"data": {"name": "spectra"}, "transform": [{"filter": {"field": "panel", "equal": "c"}}],
         "mark": {"type": "line", "color": "#FF0000", "strokeWidth": 3.5, "strokeJoin": "round"},
         "encoding": {
           "x": {"field": "E", "type": "quantitative", "scale": {"domain": [4000, 10000], "nice": false, "zero": false}, "axis": null},
           "y": {"field": "I", "type": "quantitative", "scale": {"domain": [0, 105], "nice": false, "zero": true}, "axis": {"domain": true, "domainColor": "#000000", "domainWidth": 2.5, "ticks": false, "labels": false, "grid": false, "title": null}},
           "detail": {"field": "comp"}}},
        {"data": {"name": "lines"}, "mark": {"type": "rule", "color": "#FF00FF", "strokeWidth": 2, "strokeDash": [7, 5]}, "encoding": {"x": {"field": "E", "type": "quantitative"}}},
        {"data": {"values": [{}]}, "mark": {"type": "rule", "color": "#000000", "strokeWidth": 2.5}, "encoding": {"x": {"datum": 10000, "type": "quantitative"}}},
        {"data": {"values": [{}]}, "mark": {"type": "text", "text": "(c)", "font": "Liberation Serif", "fontSize": 46, "color": "#EE2222", "align": "center", "baseline": "middle"}, "encoding": {"x": {"datum": 4231, "type": "quantitative"}, "y": {"datum": 32, "type": "quantitative"}}},
        {"data": {"values": [{}]}, "mark": {"type": "text", "text": "C", "font": "Liberation Serif", "fontSize": 51, "fontWeight": "bold", "fontStyle": "italic", "color": "#FF0000", "align": "left", "baseline": "alphabetic"}, "encoding": {"x": {"datum": 5073, "type": "quantitative"}, "y": {"datum": 42, "type": "quantitative"}}},
        {"data": {"values": [{}]}, "mark": {"type": "text", "text": "t", "font": "Liberation Serif", "fontSize": 42, "fontStyle": "italic", "color": "#FF0000", "align": "left", "baseline": "alphabetic", "dx": 28}, "encoding": {"x": {"datum": 5073, "type": "quantitative"}, "y": {"datum": 30, "type": "quantitative"}}},
        {"data": {"values": [{}]}, "mark": {"type": "text", "text": "Johnson", "font": "Liberation Serif", "fontSize": 38, "fontWeight": "bold", "fontStyle": "italic", "color": "#FF0000", "align": "left", "baseline": "alphabetic", "dx": 43}, "encoding": {"x": {"datum": 5073, "type": "quantitative"}, "y": {"datum": 57, "type": "quantitative"}}},
        {"data": {"name": "mae"}, "transform": [{"filter": {"field": "panel", "equal": "c"}}], "mark": {"type": "text", "font": "DejaVu Sans", "fontWeight": "bold", "fontSize": 41, "color": "#FF0000", "align": "center", "baseline": "middle", "dx": 167}, "encoding": {"x": {"datum": 10000, "type": "quantitative"}, "y": {"datum": 17, "type": "quantitative"}, "text": {"field": "MAE", "type": "quantitative", "format": ".1f"}}}
      ]
    },
    {
      "width": 1404, "height": 102,
      "layer": [
        {"data": {"name": "spectra"}, "transform": [{"filter": {"field": "panel", "equal": "b"}}],
         "mark": {"type": "line", "color": "#8F00D6", "strokeWidth": 3.5, "strokeJoin": "round"},
         "encoding": {
           "x": {"field": "E", "type": "quantitative", "scale": {"domain": [4000, 10000], "nice": false, "zero": false}, "axis": null},
           "y": {"field": "I", "type": "quantitative", "scale": {"domain": [0, 102], "nice": false, "zero": true}, "axis": {"domain": true, "domainColor": "#000000", "domainWidth": 2.5, "ticks": false, "labels": false, "grid": false, "title": null}},
           "detail": {"field": "comp"}}},
        {"data": {"name": "lines"}, "mark": {"type": "rule", "color": "#FF00FF", "strokeWidth": 2, "strokeDash": [7, 5]}, "encoding": {"x": {"field": "E", "type": "quantitative"}}},
        {"data": {"values": [{}]}, "mark": {"type": "rule", "color": "#000000", "strokeWidth": 2.5}, "encoding": {"x": {"datum": 10000, "type": "quantitative"}}},
        {"data": {"values": [{}]}, "mark": {"type": "text", "text": "(b)", "font": "Liberation Serif", "fontSize": 46, "color": "#8A22D0", "align": "center", "baseline": "middle"}, "encoding": {"x": {"datum": 4209, "type": "quantitative"}, "y": {"datum": 29, "type": "quantitative"}}},
        {"data": {"values": [{}]}, "mark": {"type": "text", "text": "C", "font": "Liberation Serif", "fontSize": 50, "fontWeight": "bold", "fontStyle": "italic", "color": "#7030A0", "align": "left", "baseline": "alphabetic"}, "encoding": {"x": {"datum": 5047, "type": "quantitative"}, "y": {"datum": 43, "type": "quantitative"}}},
        {"data": {"values": [{}]}, "mark": {"type": "text", "text": "t", "font": "Liberation Serif", "fontSize": 40, "fontStyle": "italic", "color": "#7030A0", "align": "left", "baseline": "alphabetic", "dx": 28}, "encoding": {"x": {"datum": 5047, "type": "quantitative"}, "y": {"datum": 30, "type": "quantitative"}}},
        {"data": {"values": [{}]}, "mark": {"type": "text", "text": "Ad", "font": "Liberation Serif", "fontSize": 37, "fontWeight": "bold", "fontStyle": "italic", "color": "#7030A0", "align": "left", "baseline": "alphabetic", "dx": 45}, "encoding": {"x": {"datum": 5047, "type": "quantitative"}, "y": {"datum": 59, "type": "quantitative"}}},
        {"data": {"name": "mae"}, "transform": [{"filter": {"field": "panel", "equal": "b"}}], "mark": {"type": "text", "font": "DejaVu Sans", "fontWeight": "bold", "fontSize": 41, "color": "#7030A0", "align": "center", "baseline": "middle", "dx": 167}, "encoding": {"x": {"datum": 10000, "type": "quantitative"}, "y": {"datum": 13, "type": "quantitative"}, "text": {"field": "MAE", "type": "quantitative", "format": ".1f"}}}
      ]
    },
    {
      "width": 1404, "height": 108,
      "layer": [
        {"data": {"name": "spectra"}, "transform": [{"filter": {"field": "panel", "equal": "a"}}],
         "mark": {"type": "line", "color": "#000000", "strokeWidth": 3.5, "strokeJoin": "round"},
         "encoding": {
           "x": {"field": "E", "type": "quantitative", "scale": {"domain": [4000, 10000], "nice": false, "zero": false},
                 "axis": {"orient": "bottom", "values": [4000, 4500, 5000, 5500, 6000, 6500, 7000, 7500, 8000, 8500, 9000, 9500, 10000], "format": "d",
                          "labelExpr": "datum.value % 1000 === 0 ? datum.label : ''",
                          "tickSize": {"condition": {"test": "datum.value % 1000 === 0", "value": 24}, "value": 13},
                          "tickColor": "#000000", "tickWidth": 2, "domain": true, "domainColor": "#000000", "domainWidth": 2.5,
                          "labelFont": "Liberation Serif", "labelFontSize": 37, "labelColor": "#000000", "labelPadding": 7,
                          "labelFlush": false, "labelOverlap": false, "labelBound": false, "grid": false,
                          "title": "Energy / cm⁻¹", "titleFont": "Liberation Serif", "titleFontSize": 56, "titleFontWeight": "bold", "titleColor": "#000000", "titlePadding": 14}},
           "y": {"field": "I", "type": "quantitative", "scale": {"domain": [0, 108], "nice": false, "zero": true}, "axis": {"domain": true, "domainColor": "#000000", "domainWidth": 2.5, "ticks": false, "labels": false, "grid": false, "title": null}},
           "detail": {"field": "comp"}}},
        {"data": {"name": "lines"}, "mark": {"type": "rule", "color": "#FF00FF", "strokeWidth": 2, "strokeDash": [7, 5]}, "encoding": {"x": {"field": "E", "type": "quantitative"}}},
        {"data": {"values": [{}]}, "mark": {"type": "rule", "color": "#000000", "strokeWidth": 2.5}, "encoding": {"x": {"datum": 10000, "type": "quantitative"}}},
        {"data": {"values": [{}]}, "mark": {"type": "text", "text": "(a)", "font": "Liberation Serif", "fontSize": 46, "color": "#222222", "align": "center", "baseline": "middle"}, "encoding": {"x": {"datum": 4231, "type": "quantitative"}, "y": {"datum": 39, "type": "quantitative"}}},
        {"data": {"values": [{}]}, "mark": {"type": "text", "text": "C", "font": "Liberation Serif", "fontSize": 46, "fontWeight": "bold", "fontStyle": "italic", "color": "#000000", "align": "left", "baseline": "alphabetic"}, "encoding": {"x": {"datum": 5137, "type": "quantitative"}, "y": {"datum": 29, "type": "quantitative"}}},
        {"data": {"values": [{}]}, "mark": {"type": "text", "text": "t", "font": "Liberation Serif", "fontSize": 36, "fontStyle": "italic", "color": "#000000", "align": "left", "baseline": "alphabetic", "dx": 25}, "encoding": {"x": {"datum": 5137, "type": "quantitative"}, "y": {"datum": 17, "type": "quantitative"}}},
        {"data": {"values": [{}]}, "mark": {"type": "text", "text": "SCIVR", "font": "Liberation Serif", "fontSize": 32, "fontWeight": "bold", "fontStyle": "italic", "color": "#000000", "align": "left", "baseline": "alphabetic", "dx": 40}, "encoding": {"x": {"datum": 5137, "type": "quantitative"}, "y": {"datum": 43, "type": "quantitative"}}},
        {"data": {"name": "mae"}, "transform": [{"filter": {"field": "panel", "equal": "a"}}], "mark": {"type": "text", "font": "DejaVu Sans", "fontWeight": "bold", "fontSize": 41, "color": "#000000", "align": "center", "baseline": "middle", "dx": 167}, "encoding": {"x": {"datum": 10000, "type": "quantitative"}, "y": {"datum": 27, "type": "quantitative"}, "text": {"field": "MAE", "type": "quantitative", "format": ".1f"}}}
      ]
    }
  ]
}
